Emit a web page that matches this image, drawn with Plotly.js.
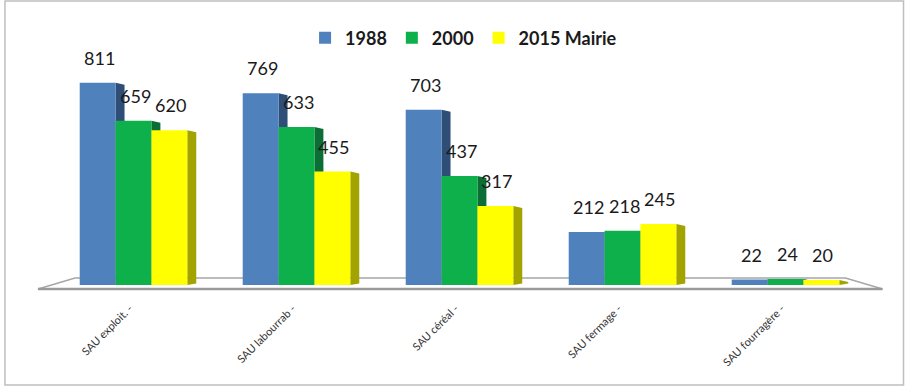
<!DOCTYPE html>
<html>
<head>
<meta charset="utf-8">
<script src="https://cdn.plot.ly/plotly-3.0.1.min.js"></script>
<style>html,body{margin:0;padding:0;background:#fff;}#chart{width:905px;height:387px;}</style>
</head>
<body>
<div id="chart"></div>
<script>
// ---- data ----
const categories = ["SAU exploit. -", "SAU labourrab -", "SAU céréal -", "SAU fermage -", "SAU fourragère -"];
const seriesNames = ["1988", "2000", "2015 Mairie"];
const values1988 = [811, 769, 703, 212, 22];
const values2000 = [659, 633, 437, 218, 24];
const values2015 = [620, 455, 317, 245, 20];

// ---- styles ----
const frontColors = ["#4F81BD", "#0DB04B", "#FFFF00"];
const sideColors = ["#2E4E78", "#0A6E35", "#A3A300"];
const allValues = [values1988, values2000, values2015];
const bargap = 0.34;
const barW = (1 - bargap) / 3;
const sideW = 0.055;

const traces = allValues.map((vals, j) => ({
  type: "bar",
  name: seriesNames[j],
  x: categories,
  y: vals,
  marker: {color: frontColors[j], line: {width: 0}},
  hoverinfo: "x+y+name"
}));

const shapes = [];
// chart outer border
shapes.push({type: "rect", xref: "paper", yref: "paper", x0: -0.0577, x1: 1.0448, y0: -0.4717, y1: 1.3396,
  line: {color: "#BFBFBF", width: 1.5}, fillcolor: "rgba(0,0,0,0)", layer: "below"});
// floor (3D base)
shapes.push({type: "path", xref: "paper", yref: "paper",
  path: "M -0.0172,-0.0189 L 1.019,-0.0189 L 0.9736,0.033 L 0.0282,0.033 Z",
  line: {color: "#A6A6A6", width: 1.5}, fillcolor: "#FFFFFF", layer: "below"});
shapes.push({type: "line", xref: "paper", yref: "paper", x0: -0.0172, x1: 1.019, y0: -0.0189, y1: -0.0189,
  line: {color: "#9A9A9A", width: 2.5}, layer: "below"});
// side faces derived from data
allValues.forEach((vals, j) => {
  vals.forEach((v, i) => {
    const xr = i + (j - 1) * barW + barW / 2;
    shapes.push({type: "path", xref: "x", yref: "y",
      path: `M ${xr},0 L ${xr + sideW},6 L ${xr + sideW},${v - 8} L ${xr},${v} Z`,
      fillcolor: sideColors[j], line: {width: 0}, layer: "below"});
  });
});

// data labels
const annotations = [];
allValues.forEach((vals, j) => {
  vals.forEach((v, i) => {
    annotations.push({x: i + (j - 1) * barW + 0.01, y: v, xref: "x", yref: "y",
      text: String(v), showarrow: false, yanchor: "bottom", yshift: 12,
      font: {family: "Lato, 'Open Sans', sans-serif", size: 18, color: "#1A1A1A"}});
  });
});

const layout = {
  width: 905, height: 387,
  margin: {l: 52, r: 38, t: 73, b: 102},
  paper_bgcolor: "#FFFFFF", plot_bgcolor: "rgba(0,0,0,0)",
  barmode: "group", bargap: bargap, bargroupgap: 0,
  showlegend: true,
  legend: {orientation: "h", x: 0.505, xanchor: "center", y: 1.165, yanchor: "middle",
    font: {family: "Lato, sans-serif", size: 18, color: "#1A1A1A", weight: "bold"},
    itemwidth: 30, traceorder: "normal", bgcolor: "rgba(0,0,0,0)"},
  xaxis: {type: "category", range: [-0.5, 4.5], showgrid: false, zeroline: false, showline: false,
    ticks: "", tickangle: -45, ticklabelstandoff: 14, ticklabelshift: -4,
    tickfont: {family: "Lato, 'Open Sans', sans-serif", size: 11, color: "#333333"}},
  yaxis: {range: [0, 850], visible: false, showgrid: false, zeroline: false},
  shapes: shapes,
  annotations: annotations
};

Plotly.newPlot("chart", traces, layout, {displayModeBar: false, staticPlot: true});
</script>
</body>
</html>
